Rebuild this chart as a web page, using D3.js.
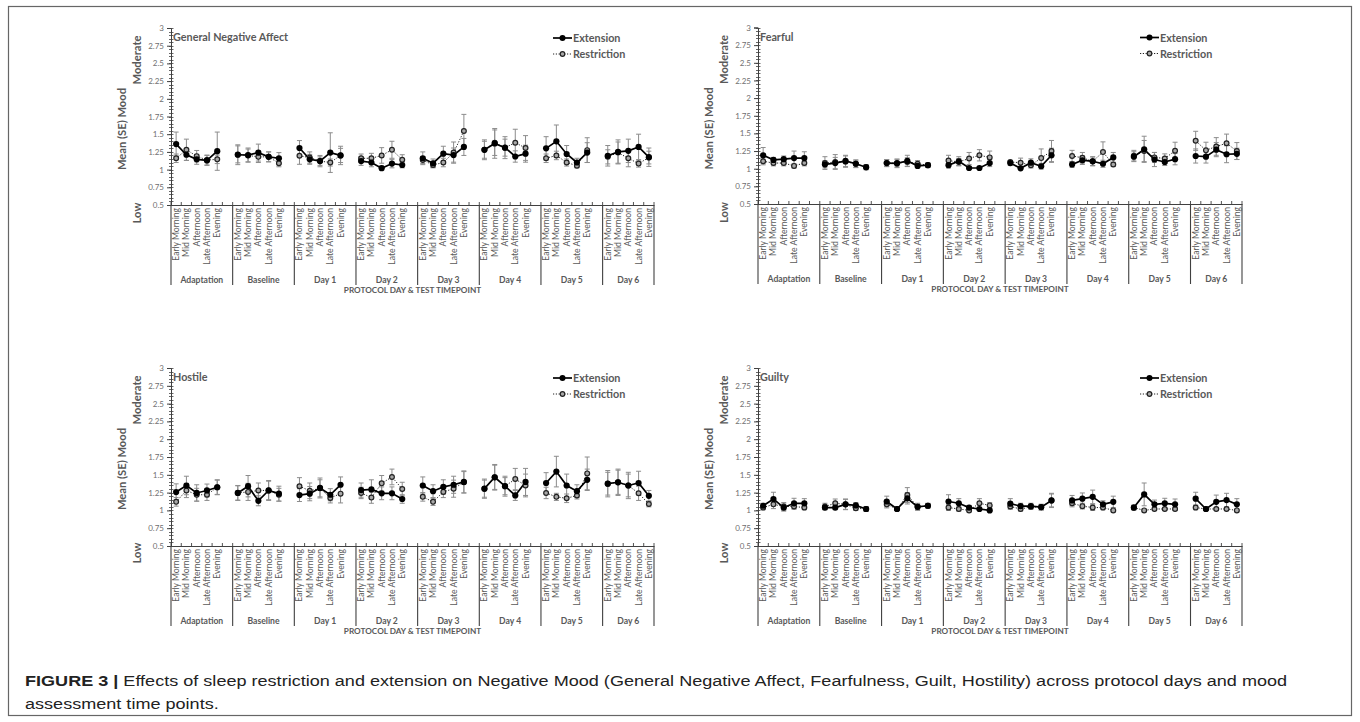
<!DOCTYPE html>
<html><head><meta charset="utf-8">
<script src="https://cdn.jsdelivr.net/npm/d3@7"></script>
<style>
html,body{margin:0;padding:0;background:#fff;}
svg{display:block;}
</style></head>
<body>
<svg id="chart" width="1360" height="722"></svg>
<script>
// ---------- data ----------
const days = ["Adaptation","Baseline","Day 1","Day 2","Day 3","Day 4","Day 5","Day 6"];
const timepoints = ["Early Morning","Mid Morning","Afternoon","Late Afternoon","Evening"];
const yTicks = [0.5,0.75,1,1.25,1.5,1.75,2,2.25,2.5,2.75,3];
const seriesNames = ["Extension","Restriction"];
const panelTitles = ["General Negative Affect","Fearful","Hostile","Guilty"];

const gnaExt = [1.36,1.21,1.145,1.13,1.26, 1.21,1.205,1.24,1.18,1.16, 1.305,1.145,1.12,1.24,1.20, 1.12,1.10,1.02,1.085,1.065, 1.16,1.09,1.225,1.205,1.32, 1.28,1.37,1.31,1.185,1.225, 1.30,1.40,1.22,1.10,1.24, 1.195,1.25,1.265,1.32,1.175];
const gnaExtSE = [0.17,0.08,0.07,0.07,0.27, 0.14,0.10,0.12,0.07,0.08, 0.105,0.07,0.06,0.28,0.13, 0.06,0.06,0.03,0.06,0.04, 0.09,0.06,0.105,0.10,0.12, 0.14,0.21,0.155,0.08,0.12, 0.165,0.23,0.12,0.06,0.14, 0.145,0.17,0.165,0.18,0.13];
const gnaRest = [1.16,1.28,1.19,1.135,1.145, 1.215,1.20,1.18,1.18,1.09, 1.195,1.17,1.12,1.10,1.20, 1.16,1.16,1.20,1.28,1.14, 1.135,1.065,1.10,1.24,1.545, 1.28,1.38,1.31,1.38,1.305, 1.16,1.20,1.10,1.055,1.275, 1.18,1.24,1.16,1.085,1.17];
const gnaRestSE = [0.06,0.15,0.08,0.07,0.06, 0.12,0.09,0.08,0.07,0.05, 0.12,0.08,0.08,0.05,0.10, 0.06,0.07,0.11,0.12,0.07, 0.05,0.04,0.06,0.15,0.235, 0.12,0.18,0.12,0.19,0.175, 0.06,0.06,0.05,0.03,0.175, 0.10,0.15,0.12,0.05,0.09];

const fearExt = [1.19,1.125,1.135,1.15,1.15, 1.06,1.08,1.11,1.07,1.02, 1.08,1.075,1.11,1.04,1.05, 1.05,1.105,1.01,1.01,1.08, 1.08,1.005,1.085,1.035,1.19, 1.06,1.12,1.105,1.07,1.16, 1.17,1.275,1.13,1.095,1.135, 1.18,1.17,1.27,1.205,1.21];
const fearExtSE = [0.11,0.035,0.045,0.10,0.09, 0.05,0.08,0.08,0.055,0.035, 0.05,0.06,0.08,0.03,0.03, 0.04,0.065,0.02,0.02,0.05, 0.035,0.02,0.055,0.04,0.10, 0.04,0.06,0.065,0.05,0.07, 0.07,0.185,0.10,0.05,0.08, 0.10,0.09,0.10,0.12,0.08];
const fearRest = [1.105,1.08,1.08,1.04,1.08, 1.08,1.095,1.10,1.07,1.025, 1.08,1.08,1.095,1.07,1.05, 1.115,1.095,1.145,1.19,1.16, 1.095,1.085,1.05,1.15,1.25, 1.18,1.155,1.105,1.235,1.06, 1.185,1.25,1.16,1.145,1.255, 1.395,1.26,1.315,1.36,1.25];
const fearRestSE = [0.05,0.04,0.04,0.03,0.04, 0.09,0.105,0.08,0.05,0.03, 0.05,0.055,0.06,0.045,0.03, 0.075,0.05,0.085,0.08,0.09, 0.02,0.065,0.04,0.13,0.15, 0.08,0.075,0.06,0.145,0.03, 0.075,0.15,0.07,0.065,0.12, 0.135,0.115,0.125,0.13,0.12];

const hostExt = [1.258,1.35,1.245,1.28,1.325, 1.245,1.34,1.135,1.28,1.235, 1.215,1.235,1.315,1.22,1.36, 1.285,1.295,1.24,1.24,1.16, 1.35,1.27,1.33,1.36,1.40, 1.305,1.465,1.34,1.21,1.40, 1.385,1.545,1.35,1.27,1.43, 1.375,1.395,1.35,1.385,1.205];
const hostExtSE = [0.115,0.13,0.115,0.09,0.105, 0.105,0.15,0.07,0.14,0.105, 0.09,0.10,0.14,0.085,0.11, 0.10,0.135,0.09,0.09,0.06, 0.12,0.09,0.10,0.12,0.155, 0.135,0.18,0.14,0.07,0.19, 0.145,0.215,0.16,0.09,0.15, 0.185,0.185,0.185,0.165,0.075];
const hostRest = [1.12,1.28,1.22,1.22,1.325, 1.245,1.26,1.28,1.28,1.22, 1.34,1.275,1.31,1.175,1.235, 1.245,1.18,1.38,1.47,1.30, 1.19,1.12,1.26,1.305,1.395, 1.305,1.465,1.34,1.44,1.35, 1.245,1.19,1.17,1.21,1.52, 1.375,1.395,1.35,1.24,1.09];
const hostRestSE = [0.06,0.10,0.09,0.08,0.10, 0.10,0.12,0.105,0.13,0.09, 0.12,0.11,0.12,0.07,0.13, 0.08,0.08,0.11,0.11,0.095, 0.06,0.05,0.08,0.12,0.15, 0.12,0.17,0.12,0.15,0.16, 0.08,0.05,0.06,0.05,0.23, 0.16,0.17,0.16,0.10,0.04];

const guiltExt = [1.065,1.16,1.04,1.10,1.10, 1.04,1.04,1.085,1.07,1.02, 1.125,1.02,1.17,1.05,1.065, 1.125,1.10,1.04,1.02,1.0, 1.095,1.06,1.06,1.045,1.14, 1.14,1.165,1.19,1.085,1.12, 1.04,1.225,1.085,1.10,1.085, 1.165,1.02,1.12,1.145,1.085];
const guiltExtSE = [0.035,0.095,0.05,0.07,0.065, 0.03,0.03,0.075,0.04,0.035, 0.075,0.02,0.08,0.05,0.035, 0.095,0.065,0.03,0.02,0.02, 0.07,0.04,0.04,0.04,0.10, 0.07,0.08,0.095,0.05,0.08, 0.035,0.16,0.06,0.07,0.075, 0.09,0.02,0.095,0.095,0.08];
const guiltRest = [1.04,1.085,1.055,1.055,1.04, 1.055,1.10,1.085,1.03,1.02, 1.085,1.02,1.215,1.05,1.065, 1.04,1.02,1.00,1.10,1.07, 1.055,1.02,1.05,1.045,1.14, 1.10,1.06,1.04,1.04,1.00, 1.04,1.00,1.02,1.02,1.02, 1.04,1.02,1.02,1.02,1.00];
const guiltRestSE = [0.03,0.06,0.055,0.04,0.03, 0.045,0.06,0.07,0.03,0.03, 0.05,0.02,0.105,0.04,0.03, 0.04,0.03,0.02,0.065,0.04, 0.04,0.03,0.03,0.04,0.09, 0.05,0.04,0.04,0.03,0.02, 0.03,0.02,0.02,0.02,0.02, 0.03,0.02,0.02,0.02,0.02];

const captionBold = "FIGURE 3 |";
const captionLine1 = " Effects of sleep restriction and extension on Negative Mood (General Negative Affect, Fearfulness, Guilt, Hostility) across protocol days and mood";
const captionLine2 = "assessment time points.";

// ---------- layout ----------
const panelData = [
  {title: panelTitles[0], ext: gnaExt, extSE: gnaExtSE, rest: gnaRest, restSE: gnaRestSE, x0:171, x1:654, yTop:28, yBot:205},
  {title: panelTitles[1], ext: fearExt, extSE: fearExtSE, rest: fearRest, restSE: fearRestSE, x0:758, x1:1242, yTop:27.5, yBot:204},
  {title: panelTitles[2], ext: hostExt, extSE: hostExtSE, rest: hostRest, restSE: hostRestSE, x0:171, x1:654, yTop:368, yBot:546},
  {title: panelTitles[3], ext: guiltExt, extSE: guiltExtSE, rest: guiltRest, restSE: guiltRestSE, x0:758, x1:1242, yTop:368, yBot:546}
];

const FONT = "Lato, 'Open Sans', sans-serif";
const TXT = "#595959";
const AX = "#404040";

const svg = d3.select("#chart");

// frame
svg.append("rect").attr("x",8.5).attr("y",6.5).attr("width",1343).attr("height",709)
  .attr("fill","none").attr("stroke","#666").attr("stroke-width",1.2);

// category keys: 5 timepoints + one blank slot after each day except last
const catKeys = [];
days.forEach((d,di)=>{
  timepoints.forEach((t,ti)=>catKeys.push(di+"|"+ti));
  if (di < days.length-1) catKeys.push(di+"|gap");
});

panelData.forEach(p=>{
  const g = svg.append("g");
  const x = d3.scaleBand().domain(catKeys).range([p.x0,p.x1]).padding(0);
  const y = d3.scaleLinear().domain([0.5,3]).range([p.yBot,p.yTop]);
  const cx = (di,ti)=> x(di+"|"+ti) + x.bandwidth()/2;

  // y axis
  const yAxis = d3.axisLeft(y).tickValues(yTicks).tickSize(4).tickPadding(3).tickFormat(d=>String(d));
  const ya = g.append("g").attr("transform",`translate(${p.x0},0)`).call(yAxis);
  ya.select(".domain").attr("stroke",AX).attr("stroke-width",1);
  ya.selectAll(".tick line").attr("stroke",AX);
  ya.selectAll(".tick text").attr("fill","#6f6f6f").style("font-family",FONT).style("font-size","8px");
  // minor ticks
  g.append("g").selectAll("line").data(d3.range(0,51).map(i=>0.5+i*0.05)).join("line")
    .attr("x1",p.x0-2).attr("x2",p.x0+2.5)
    .attr("y1",d=>Math.round(y(d))+0.5).attr("y2",d=>Math.round(y(d))+0.5)
    .attr("stroke",AX).attr("stroke-width",0.8);

  // x axis line
  const xa = g.append("g").attr("transform",`translate(0,${p.yBot})`)
    .call(d3.axisBottom(x).tickValues([]).tickSizeOuter(0));
  xa.select(".domain").attr("stroke",AX).attr("stroke-width",1.2);
  // small inside ticks at category boundaries
  const bounds = catKeys.map(k=>x(k)).concat([p.x1]);
  g.append("g").selectAll("line").data(bounds).join("line")
    .attr("x1",d=>d).attr("x2",d=>d).attr("y1",p.yBot).attr("y2",p.yBot-3)
    .attr("stroke",AX).attr("stroke-width",0.9);
  // group separators
  const groupStarts = days.map((d,di)=>x(di+"|0"));
  g.append("g").selectAll("line").data(groupStarts.concat([p.x1])).join("line")
    .attr("x1",d=>d).attr("x2",d=>d).attr("y1",p.yBot).attr("y2",p.yBot+80)
    .attr("stroke",AX).attr("stroke-width",1.1);

  // category labels
  days.forEach((d,di)=>{
    timepoints.forEach((t,ti)=>{
      const px = cx(di,ti)+3;
      g.append("text").attr("transform",`translate(${px},${p.yBot+3}) rotate(-90)`)
        .attr("text-anchor","end").attr("fill",TXT)
        .style("font-family",FONT).style("font-size","8.6px").text(t);
    });
    const gEnd = di < days.length-1 ? x(di+"|gap")+x.bandwidth() : p.x1;
    const gc = (x(di+"|0") + gEnd)/2;
    g.append("text").attr("x",gc).attr("y",p.yBot+78).attr("text-anchor","middle")
      .attr("fill",TXT).style("font-family",FONT).style("font-size","8.6px").style("font-weight","bold").text(d);
  });
  g.append("text").attr("x",(p.x0+p.x1)/2).attr("y",p.yBot+87.5).attr("text-anchor","middle")
    .attr("fill",TXT).style("font-family",FONT).style("font-size","8.2px").style("font-weight","bold")
    .text("PROTOCOL DAY & TEST TIMEPOINT");

  // y axis titles
  const rotText = (txt, xc, yc, size)=>g.append("text")
    .attr("transform",`translate(${xc + size*0.36},${yc}) rotate(-90)`)
    .attr("text-anchor","middle").attr("fill",TXT)
    .style("font-family",FONT).style("font-size",size+"px").style("font-weight","bold").text(txt);
  rotText("Mean (SE) Mood", p.x0-49, p.yTop+101, 11.2);
  rotText("Moderate", p.x0-34, p.yTop+32, 11.2);
  rotText("Low", p.x0-34, p.yTop+185, 11.2);

  // panel title
  g.append("text").attr("x",p.x0+2).attr("y",p.yTop+13).attr("fill",TXT)
    .style("font-family",FONT).style("font-size","10.8px").style("font-weight","bold").text(p.title);

  // data points
  const pts = (vals, ses)=> vals.map((v,i)=>({di:Math.floor(i/5), ti:i%5, v, se:ses[i]}));
  const extPts = pts(p.ext,p.extSE), restPts = pts(p.rest,p.restSE);

  const drawErr = (arr)=>{
    const eg = g.append("g").attr("stroke","#8c8c8c").attr("stroke-width",1);
    arr.forEach(d=>{
      const X = cx(d.di,d.ti);
      eg.append("line").attr("x1",X).attr("x2",X).attr("y1",y(d.v-d.se)).attr("y2",y(d.v+d.se));
      [d.v-d.se,d.v+d.se].forEach(e=>eg.append("line").attr("x1",X-2.5).attr("x2",X+2.5).attr("y1",y(e)).attr("y2",y(e)));
    });
  };
  drawErr(restPts);
  drawErr(extPts);

  const line = d3.line().x(d=>cx(d.di,d.ti)).y(d=>y(d.v));
  days.forEach((d,di)=>{
    g.append("path").datum(restPts.filter(q=>q.di===di)).attr("d",line)
      .attr("fill","none").attr("stroke","#222").attr("stroke-width",1).attr("stroke-dasharray","1.2,1.6");
    g.append("path").datum(extPts.filter(q=>q.di===di)).attr("d",line)
      .attr("fill","none").attr("stroke","#000").attr("stroke-width",1.7);
  });
  g.append("g").selectAll("circle").data(restPts).join("circle")
    .attr("cx",d=>cx(d.di,d.ti)).attr("cy",d=>y(d.v)).attr("r",2.4)
    .attr("fill","#a8a8a8").attr("stroke","#222").attr("stroke-width",1.2);
  g.append("g").selectAll("circle").data(extPts).join("circle")
    .attr("cx",d=>cx(d.di,d.ti)).attr("cy",d=>y(d.v)).attr("r",3.1)
    .attr("fill","#000");

  // legend
  const lg = g.append("g");
  const lx = p.x0+382;
  [0,1].forEach(i=>{
    const ly = p.yTop + 10 + i*16;
    lg.append("line").attr("x1",lx).attr("x2",lx+19).attr("y1",ly).attr("y2",ly)
      .attr("stroke",i===0?"#000":"#222").attr("stroke-width",i===0?1.7:1)
      .attr("stroke-dasharray",i===0?null:"1.2,1.6");
    if (i===0) lg.append("circle").attr("cx",lx+9.5).attr("cy",ly).attr("r",3).attr("fill","#000");
    else lg.append("circle").attr("cx",lx+9.5).attr("cy",ly).attr("r",2.3).attr("fill","#a8a8a8").attr("stroke","#222").attr("stroke-width",1.2);
    lg.append("text").attr("x",lx+20).attr("y",ly+4).attr("fill",TXT)
      .style("font-family",FONT).style("font-size","10.8px").style("font-weight","bold").text(seriesNames[i]);
  });
});

// caption (horizontally widened to match the figure's text width)
const capStyle = s=>s.attr("fill","#222").style("font-family","'Liberation Sans', Arial, sans-serif").style("font-size","15px");
const cap = svg.append("text").attr("transform","translate(25,686) scale(1.205,1)").call(capStyle);
cap.append("tspan").style("font-weight","bold").text(captionBold);
cap.append("tspan").text(captionLine1);
svg.append("text").attr("transform","translate(25,709) scale(1.205,1)").call(capStyle).text(captionLine2);
</script>
</body></html>
